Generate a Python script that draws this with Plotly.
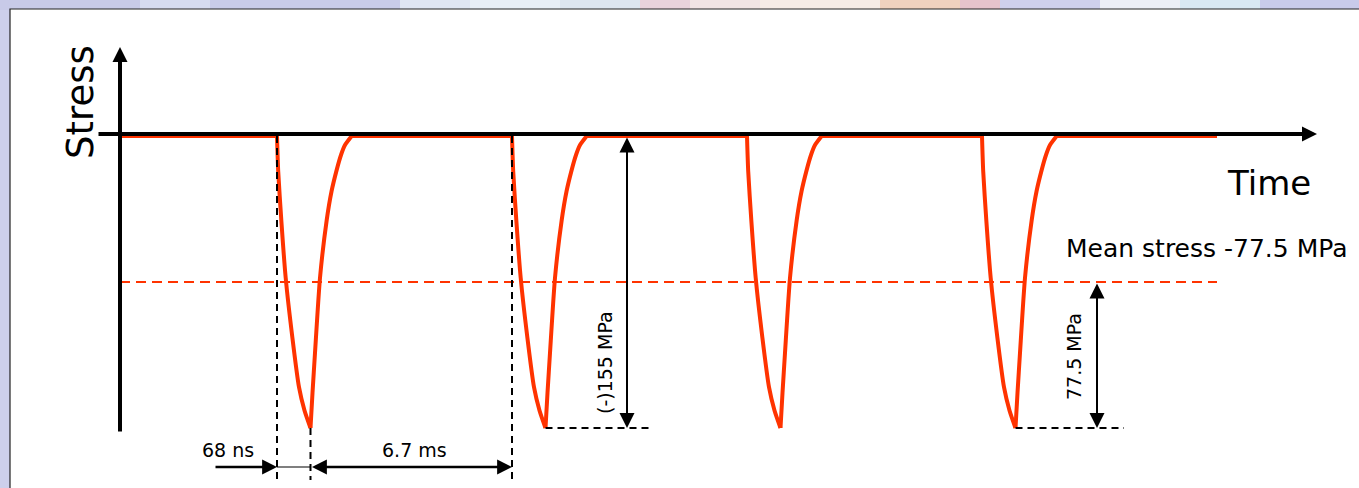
import plotly.graph_objects as go

# ---------------- canvas ----------------
W, H = 1359, 488
ZERO_ROW = 136                 # pixel row of zero stress
PX_PER_MPA = 292 / 155         # vertical scale of the sketch


def mpa_at_row(row):
    """Stress value that sits at a given pixel row of the canvas."""
    return (ZERO_ROW - row) / PX_PER_MPA


# ---------------- loading-cycle data ----------------
pulse_starts = [277, 512, 747, 982]      # schematic time of each impact
peak_stress = -155.0                     # MPa
mean_stress = -77.5                      # MPa
stress_amplitude = 77.5                  # MPa
# pulse profile: time offset from onset and fraction of the peak stress
pulse_dt = [0, 1.2, 4.3, 8.7, 15.3, 22, 27.5, 33.5,
            35.5, 38, 43, 49.7, 54.5, 59.7, 64, 68, 74.7]
pulse_frac = [0, 0.12, 0.288, 0.486, 0.688, 0.86, 0.94, 1.0,
              0.88, 0.743, 0.486, 0.288, 0.19, 0.116, 0.065, 0.031, 0.0]
peak_index = pulse_frac.index(1.0)
trace_start, trace_end = 120, 1217

# labels
label_stress = "Stress"
label_time = "Time"
label_mean = "Mean stress -77.5 MPa"
label_peak = "(-)155 MPa"
label_amp = "77.5 MPa"
label_pulse = "68 ns"
label_period = "6.7 ms"

RED = "#ff3300"
BLACK = "#000000"
FONT = "DejaVu Sans"

fig = go.Figure()

# ---- baseline between impacts ----
base_x, base_y = [], []
seg_from = trace_start
for t0 in pulse_starts:
    base_x += [seg_from, t0, None]
    base_y += [0, 0, None]
    seg_from = t0 + pulse_dt[-1]
base_x += [seg_from, trace_end]
base_y += [0, 0]
fig.add_trace(go.Scatter(x=base_x, y=base_y, mode="lines",
                         line=dict(color=RED, width=4), hoverinfo="skip"))

# ---- stress pulses (loading branch and unloading branch) ----
for t0 in pulse_starts:
    for lo, hi in ((0, peak_index + 1), (peak_index, len(pulse_dt))):
        fig.add_trace(go.Scatter(
            x=[t0 + d for d in pulse_dt[lo:hi]],
            y=[peak_stress * f for f in pulse_frac[lo:hi]],
            mode="lines", line=dict(color=RED, width=4, shape="spline", smoothing=0.6),
            hoverinfo="skip"))

# ---- mean stress line ----
fig.add_trace(go.Scatter(x=[trace_start, trace_end], y=[mean_stress, mean_stress],
                         mode="lines", line=dict(color=RED, width=1.8, dash="10px,6px"),
                         hoverinfo="skip"))

# ---- dimension guide lines ----
guide_bottom = mpa_at_row(480)
t_peak1 = pulse_starts[0] + pulse_dt[peak_index]
t_peak2 = pulse_starts[1] + pulse_dt[peak_index]
t_peak4 = pulse_starts[3] + pulse_dt[peak_index]
gx = [pulse_starts[0], pulse_starts[0], None, t_peak1, t_peak1, None,
      pulse_starts[1], pulse_starts[1], None,
      t_peak2, 650, None, t_peak4, 1124]
gy = [0, guide_bottom, None, peak_stress, guide_bottom, None,
      0, guide_bottom, None,
      peak_stress, peak_stress, None, peak_stress, peak_stress]
fig.add_trace(go.Scatter(x=gx, y=gy, mode="lines",
                         line=dict(color=BLACK, width=2, dash="7px,5px"), hoverinfo="skip"))

# thin connector under the pulse width
dim_row = mpa_at_row(467)
fig.add_trace(go.Scatter(x=[pulse_starts[0], t_peak1], y=[dim_row, dim_row], mode="lines",
                         line=dict(color=BLACK, width=1.2), hoverinfo="skip"))

annotations = []


def arrow(x_tip, y_tip, x_tail, y_tail, width, size, both=False):
    a = dict(x=x_tip, y=y_tip, ax=x_tail, ay=y_tail, xref="x", yref="y",
             axref="x", ayref="y", text="", showarrow=True, arrowhead=2,
             arrowsize=size, arrowwidth=width, arrowcolor=BLACK, standoff=0)
    if both:
        a.update(arrowside="end+start", startarrowhead=2, startarrowsize=size, startstandoff=0)
    annotations.append(a)


axis_lift = 2 / PX_PER_MPA
# stress axis and time axis
arrow(120, mpa_at_row(47), 120, mpa_at_row(433), 4, 0.75)
arrow(1317, axis_lift, 97, axis_lift, 4, 0.75)
# peak stress and amplitude
arrow(627, peak_stress, 627, 0, 2, 1.5, both=True)
arrow(1097, peak_stress, 1097, mean_stress, 2, 1.5, both=True)
# pulse width and interval
arrow(pulse_starts[0], dim_row, 214, dim_row, 2.7, 1.1)
arrow(pulse_starts[1], dim_row, t_peak1, dim_row, 2.7, 1.1, both=True)


def label(text, x, y, size, angle=0, xanchor="center"):
    annotations.append(dict(x=x, y=y, xref="x", yref="y", text=text, showarrow=False,
                            textangle=angle, xanchor=xanchor, yanchor="middle",
                            font=dict(family=FONT, size=size, color=BLACK)))


label(label_stress, 80, mpa_at_row(102), 37, angle=-90)
label(label_time, 1269, mpa_at_row(183), 34)
label(label_mean, 1064, mpa_at_row(248), 25, xanchor="left")
label(label_pulse, 228, mpa_at_row(450), 19)
label(label_period, 414, mpa_at_row(450), 19)
label(label_peak, 605, mpa_at_row(363), 19, angle=-90)
label(label_amp, 1074, mpa_at_row(357), 19, angle=-90)

# ---- slide backdrop: tinted strip above and left of the white panel ----
strip = [(0, 140, "#c8cae8"), (140, 210, "#d6dcf0"), (210, 400, "#c9cce9"),
         (400, 470, "#dfe6f3"), (470, 560, "#e8eef5"), (560, 640, "#dde6f0"),
         (640, 690, "#e9d3dc"), (690, 760, "#f1e4e4"), (760, 880, "#f6ece6"),
         (880, 960, "#f0d2bf"), (960, 1000, "#e6c4cc"), (1000, 1100, "#cfd0ec"),
         (1100, 1180, "#eceef6"), (1180, 1260, "#d9e9f3"), (1260, 1359, "#c9cbea")]
shapes = []
for x0, x1, c in strip:
    shapes.append(dict(type="rect", xref="paper", yref="paper", x0=x0 / W, x1=x1 / W,
                       y0=(H - 10) / H, y1=1, fillcolor=c, line=dict(width=0), layer="below"))
shapes.append(dict(type="rect", xref="paper", yref="paper", x0=10 / W, x1=1.01,
                   y0=-0.01, y1=(H - 9) / H, fillcolor="white",
                   line=dict(color="#222222", width=1.2), layer="below"))

fig.update_layout(
    width=W, height=H, margin=dict(l=0, r=0, t=0, b=0),
    paper_bgcolor="#cdd0ec", plot_bgcolor="rgba(0,0,0,0)",
    showlegend=False,
    xaxis=dict(range=[0, W], visible=False, fixedrange=True),
    yaxis=dict(range=[mpa_at_row(H), mpa_at_row(0)], visible=False, fixedrange=True),
    shapes=shapes, annotations=annotations,
)

fig.write_html("out.html", config={"displayModeBar": False})
